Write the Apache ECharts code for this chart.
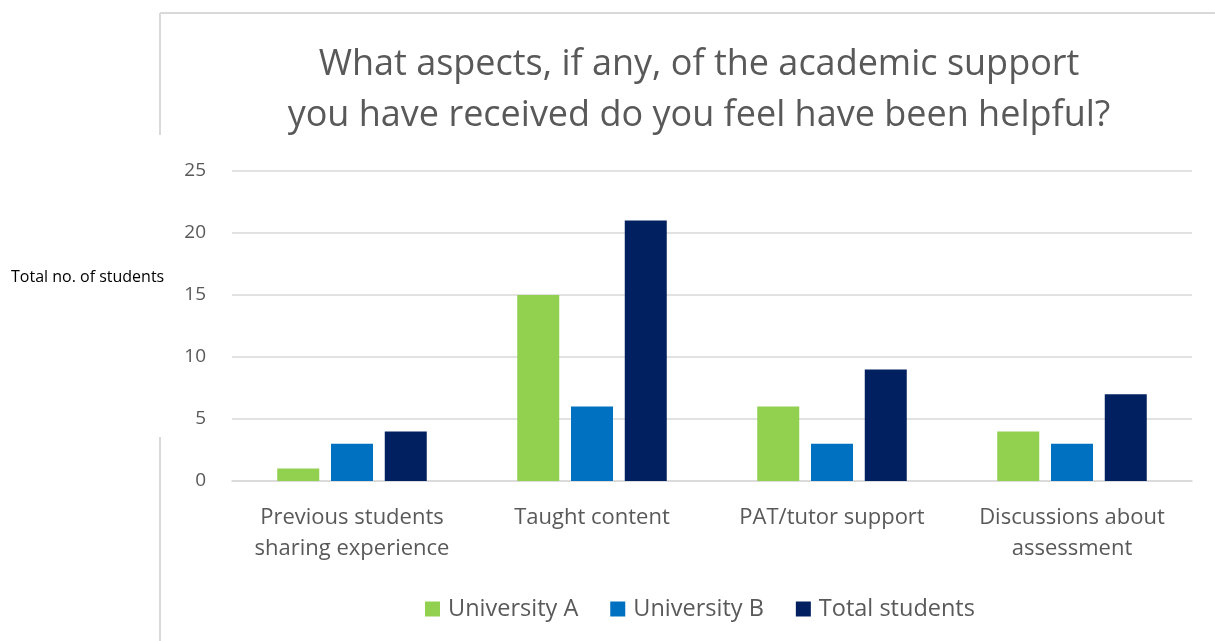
<!DOCTYPE html>
<html><head><meta charset="utf-8">
<script src="https://cdn.jsdelivr.net/npm/echarts@6/dist/echarts.min.js"></script>
<style>html,body{margin:0;padding:0;background:#fff}#c{width:1215px;height:641px}</style>
</head><body><div id="c"></div>
<script>
const categories = ['Previous students\nsharing experience', 'Taught content', 'PAT/tutor support', 'Discussions about\nassessment'];
const universityA = [1, 15, 6, 4];
const universityB = [3, 6, 3, 3];
const totalStudents = [4, 21, 9, 7];
const seriesNames = ['University A', 'University B', 'Total students'];
const colors = ['#92d050', '#0070c0', '#002060'];
const FONT = 'Open Sans';
const chart = echarts.init(document.getElementById('c'));
const mk = (name, data, color) => ({
  name, type: 'bar', data, barWidth: 42, barGap: '28%',
  itemStyle: { color }
});
chart.setOption({
  animation: false,
  title: {
    text: 'What aspects, if any, of the academic support\nyou have received do you feel have been helpful?',
    left: 694, top: 34, textAlign: 'center',
    textStyle: { fontFamily: FONT, fontSize: 36, fontWeight: 'normal', color: '#595959', lineHeight: 51 }
  },
  legend: {
    left: 420, top: 592, itemWidth: 15, itemHeight: 15, itemGap: 32,
    icon: 'rect',
    textStyle: { fontFamily: FONT, fontSize: 23.5, color: '#595959', padding: [0, 0, 0, 3] }
  },
  grid: { left: 232, right: 23, top: 171, bottom: 160 },
  xAxis: {
    type: 'category', data: categories,
    axisLine: { lineStyle: { color: '#d9d9d9', width: 1.5 } },
    axisTick: { show: false },
    axisLabel: { fontFamily: FONT, fontSize: 22, color: '#595959', lineHeight: 31, margin: 21, interval: 0 }
  },
  yAxis: {
    type: 'value', min: 0, max: 25, interval: 5,
    axisLabel: { fontFamily: FONT, fontSize: 19, color: '#595959', margin: 26 },
    splitLine: { lineStyle: { color: '#d9d9d9', width: 1.5 } },
    axisLine: { show: false }, axisTick: { show: false }
  },
  graphic: [
    { type: 'line', shape: { x1: 160, y1: 13, x2: 1215, y2: 13 }, style: { stroke: '#d9d9d9', lineWidth: 2 } },
    { type: 'line', shape: { x1: 160, y1: 13, x2: 160, y2: 135 }, style: { stroke: '#d9d9d9', lineWidth: 2 } },
    { type: 'line', shape: { x1: 160, y1: 437, x2: 160, y2: 641 }, style: { stroke: '#d9d9d9', lineWidth: 2 } },
    { type: 'text', left: 11, top: 269, style: { text: 'Total no. of students', fontFamily: FONT, fontSize: 16, fill: '#000' } }
  ],
  series: [
    mk(seriesNames[0], universityA, colors[0]),
    mk(seriesNames[1], universityB, colors[1]),
    mk(seriesNames[2], totalStudents, colors[2])
  ]
});
</script></body></html>
